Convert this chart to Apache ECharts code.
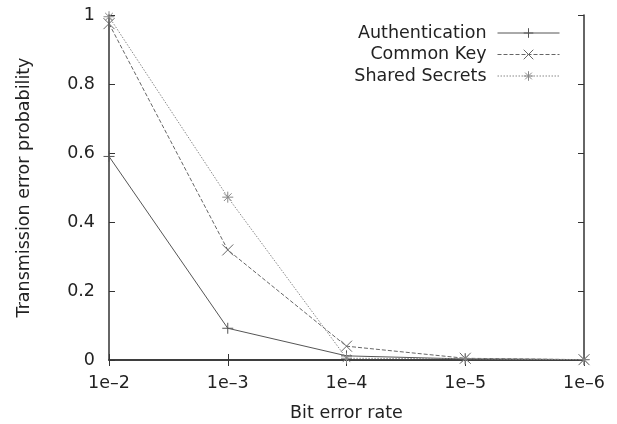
<!DOCTYPE html>
<html>
<head>
<meta charset="utf-8">
<script src="https://cdn.jsdelivr.net/npm/echarts@6/dist/echarts.min.js"></script>
<style>
  html, body { margin: 0; padding: 0; background: #fff; }
  #chart { width: 617px; height: 424px; }
</style>
</head>
<body>
<div id="chart"></div>
<script>
// bit error rates on the x axis
const categories = ['1e\u20132', '1e\u20133', '1e\u20134', '1e\u20135', '1e\u20136']
// transmission error probability per scheme
const authentication = [0.59, 0.092, 0.012, 0.003, 0.001]
const commonKey = [0.975, 0.319, 0.04, 0.005, 0.001]
const sharedSecrets = [0.995, 0.472, 0.005, 0.004, 0.001]

const FONT = '"DejaVu Sans", "Liberation Sans", sans-serif'
const FS = 17.5
const BORDER = '#333'

// gnuplot-like point types
const PLUS = 'path://M5,0L5,10M0,5L10,5'
const CROSS = 'path://M0,0L10,10M10,0L0,10'
const STAR = 'path://M5,0L5,10M0,5L10,5M1.5,1.5L8.5,8.5M8.5,1.5L1.5,8.5'

const myChart = echarts.init(document.getElementById('chart'))

function makeSeries(name, data, symbol, color, type) {
  return {
    name: name,
    type: 'line',
    data: data,
    symbol: symbol,
    symbolSize: 11,
    showAllSymbol: true,
    lineStyle: { color: color, width: 1, type: type },
    itemStyle: { color: 'none', borderColor: color, borderWidth: 1 },
    emphasis: { disabled: true },
    animation: false
  }
}

const option = {
  animation: false,
  grid: { left: 109, right: 33, top: 15, bottom: 64, outerBoundsMode: 'none' },
  legend: {
    orient: 'vertical',
    align: 'right',
    right: 57,
    top: 24,
    padding: 0,
    itemWidth: 62,
    itemHeight: 12,
    itemGap: 3.5,
    lineStyle: { width: 1 },
    itemStyle: { borderWidth: 1 },
    textStyle: { fontFamily: FONT, fontSize: FS, color: '#222', padding: [0, 6, 0, 0] },
    data: ['Authentication', 'Common Key', 'Shared Secrets']
  },
  xAxis: [{
    type: 'category',
    data: categories,
    boundaryGap: false,
    name: 'Bit error rate',
    nameLocation: 'middle',
    nameGap: 44,
    nameTextStyle: { fontFamily: FONT, fontSize: FS, color: '#222' },
    axisLine: { lineStyle: { color: BORDER, width: 1.5 } },
    axisTick: { inside: true, length: 6, alignWithLabel: true, lineStyle: { color: BORDER } },
    axisLabel: { fontFamily: FONT, fontSize: FS, color: '#222', margin: 14 },
    splitLine: { show: false }
  }, {
    type: 'category',
    data: categories,
    position: 'top',
    boundaryGap: false,
    axisLine: { lineStyle: { color: BORDER, width: 1.5 } },
    axisTick: { inside: true, length: 6, lineStyle: { color: BORDER } },
    axisLabel: { show: false },
    splitLine: { show: false }
  }],
  yAxis: [{
    type: 'value',
    min: 0,
    max: 1,
    interval: 0.2,
    name: 'Transmission error probability',
    nameLocation: 'middle',
    nameGap: 76,
    nameTextStyle: { fontFamily: FONT, fontSize: FS, color: '#222' },
    axisLine: { show: true, lineStyle: { color: BORDER, width: 1.5 } },
    axisTick: { show: true, inside: true, length: 6, lineStyle: { color: BORDER } },
    axisLabel: { fontFamily: FONT, fontSize: FS, color: '#222', margin: 14 },
    splitLine: { show: false }
  }, {
    type: 'value',
    min: 0,
    max: 1,
    interval: 0.2,
    position: 'right',
    axisLine: { show: true, lineStyle: { color: BORDER, width: 1.5 } },
    axisTick: { show: true, inside: true, length: 6, lineStyle: { color: BORDER } },
    axisLabel: { show: false },
    splitLine: { show: false }
  }],
  series: [
    makeSeries('Authentication', authentication, PLUS, '#555', 'solid'),
    makeSeries('Common Key', commonKey, CROSS, '#666', [4, 2]),
    makeSeries('Shared Secrets', sharedSecrets, STAR, '#888', [1.5, 1.5])
  ]
}

myChart.setOption(option)
</script>
</body>
</html>
